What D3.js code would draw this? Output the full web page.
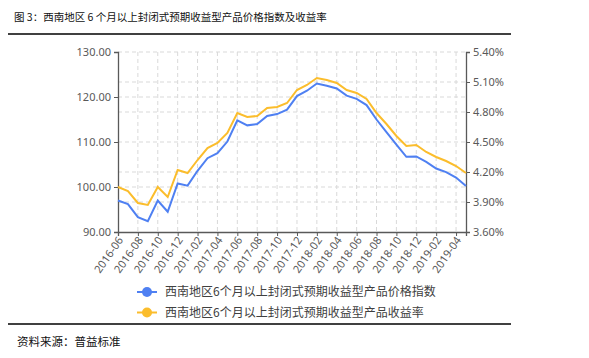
<!DOCTYPE html>
<html>
<head>
<meta charset="utf-8">
<script src="https://cdn.jsdelivr.net/npm/d3@7"></script>
<style>
  body { margin: 0; background: #fff; }
  svg { display: block; }
</style>
</head>
<body>
<svg></svg>
<script>
const months = [
    "2016-06", "2016-07", "2016-08", "2016-09", "2016-10", "2016-11", "2016-12",
    "2017-01", "2017-02", "2017-03", "2017-04", "2017-05", "2017-06", "2017-07",
    "2017-08", "2017-09", "2017-10", "2017-11", "2017-12", "2018-01", "2018-02",
    "2018-03", "2018-04", "2018-05", "2018-06", "2018-07", "2018-08", "2018-09",
    "2018-10", "2018-11", "2018-12", "2019-01", "2019-02", "2019-03", "2019-04",
    "2019-05"
];
// price index, left axis
const priceIndex = [
    97.0, 96.2, 93.3, 92.4, 97.0, 94.5, 100.8, 100.3, 103.6, 106.4, 107.5, 110.1,
    114.8, 113.7, 114.0, 115.8, 116.2, 117.2, 120.2, 121.4, 123.0, 122.5, 121.9, 120.3,
    119.6, 118.2, 115.0, 112.2, 109.4, 106.7, 106.8, 105.6, 104.1, 103.3, 102.1, 100.2
];
// yield %, right axis
const yieldRate = [
    4.05, 4.01, 3.89, 3.87, 4.05, 3.95, 4.22, 4.19, 4.32, 4.44, 4.49, 4.59,
    4.79, 4.75, 4.76, 4.84, 4.85, 4.89, 5.02, 5.07, 5.14, 5.12, 5.09, 5.02,
    4.99, 4.93, 4.79, 4.68, 4.56, 4.46, 4.47, 4.40, 4.35, 4.31, 4.26, 4.19
];
const leftTicks = [90, 100, 110, 120, 130];
const rightTicks = [3.6, 3.9, 4.2, 4.5, 4.8, 5.1, 5.4];
const seriesNames = [
    "西南地区6个月以上封闭式预期收益型产品价格指数",
    "西南地区6个月以上封闭式预期收益型产品收益率"
];
const title = "图 3：西南地区 6 个月以上封闭式预期收益型产品价格指数及收益率";
const source = "资料来源：普益标准";

const w = 589;
const h = 358;
const blue = "#4f80f2";
const yellow = "#fbbd2c";
const txt = "#595959";
const cjk = "'Noto Sans CJK SC', sans-serif";
const num = "'Noto Sans', 'Liberation Sans', sans-serif";

const svg = d3.select("svg").attr("width", w).attr("height", h).attr("viewBox", [0, 0, w, h]);

const x = d3.scalePoint().domain(months).range([118, 466]);
const yL = d3.scaleLinear().domain([90, 130]).range([232, 52]);
const yR = d3.scaleLinear().domain([3.6, 5.4]).range([232, 52]);

// title + rules
svg.append("text").attr("x", 14).attr("y", 21)
    .attr("font-family", cjk).attr("font-size", "10.5px").attr("fill", "#111")
    .text(title);
svg.append("line").attr("x1", 8).attr("x2", 511).attr("y1", 34).attr("y2", 34)
    .attr("stroke", "#000").attr("stroke-width", 1.5);
svg.append("line").attr("x1", 8).attr("x2", 511).attr("y1", 324).attr("y2", 324)
    .attr("stroke", "#000").attr("stroke-width", 1.5);
svg.append("text").attr("x", 17).attr("y", 346)
    .attr("font-family", cjk).attr("font-size", "11.5px").attr("fill", "#111")
    .text(source);

// grid
const grid = svg.append("g").attr("stroke", "#d9d9d9").attr("stroke-dasharray", "4,3");
const hLines = Array.from(new Set(leftTicks.map(yL).concat(rightTicks.map(yR)).map(Math.round)))
    .filter(y => y < 231);
grid.selectAll("line.h").data(hLines).join("line").attr("class", "h")
    .attr("x1", 118).attr("x2", 466).attr("y1", d => d).attr("y2", d => d);
const tickMonths = months.filter((d, i) => i % 2 === 0);
grid.selectAll("line.v").data(tickMonths.slice(1)).join("line").attr("class", "v")
    .attr("x1", d => x(d)).attr("x2", d => x(d)).attr("y1", 52).attr("y2", 232);

// axes
const axL = svg.append("g").attr("transform", "translate(118,0)")
    .call(d3.axisLeft(yL).tickValues(leftTicks).tickFormat(d3.format(".2f")).tickSizeOuter(0).tickSize(4).tickPadding(3));
const axR = svg.append("g").attr("transform", "translate(466,0)")
    .call(d3.axisRight(yR).tickValues(rightTicks).tickFormat(d => d.toFixed(2) + "%").tickSizeOuter(0).tickSize(4).tickPadding(3));
const axB = svg.append("g").attr("transform", "translate(0,232)")
    .call(d3.axisBottom(x).tickValues(tickMonths).tickSizeOuter(0).tickSize(4).tickPadding(3));
axB.selectAll("text")
    .attr("text-anchor", "end")
    .attr("x", 2).attr("y", 6).attr("dy", "0.35em")
    .attr("transform", "rotate(-55,2,6)");

[axL, axR, axB].forEach(a => {
    a.select(".domain").attr("stroke", "#595959").attr("stroke-width", 1.3);
    a.selectAll(".tick line").attr("stroke", "#595959");
    a.selectAll("text").attr("fill", txt).attr("font-family", num).attr("font-size", "11px");
});

// lines
const lineL = d3.line().x((d, i) => x(months[i])).y(d => yL(d));
const lineR = d3.line().x((d, i) => x(months[i])).y(d => yR(d));
svg.append("path").datum(yieldRate).attr("d", lineR)
    .attr("fill", "none").attr("stroke", yellow).attr("stroke-width", 2);
svg.append("path").datum(priceIndex).attr("d", lineL)
    .attr("fill", "none").attr("stroke", blue).attr("stroke-width", 2);

// legend
const legend = svg.append("g");
const items = legend.selectAll("g").data(seriesNames).join("g")
    .attr("transform", (d, i) => "translate(137," + (292 + i * 20.5) + ")");
items.append("line").attr("x1", 0).attr("x2", 20)
    .attr("stroke", (d, i) => i === 0 ? blue : yellow).attr("stroke-width", 2);
items.append("circle").attr("cx", 10).attr("r", 5)
    .attr("fill", (d, i) => i === 0 ? blue : yellow);
items.append("text").attr("x", 28).attr("y", 4)
    .attr("font-family", cjk).attr("font-size", "12px").attr("fill", "#404040")
    .text(d => d);
</script>
</body>
</html>
